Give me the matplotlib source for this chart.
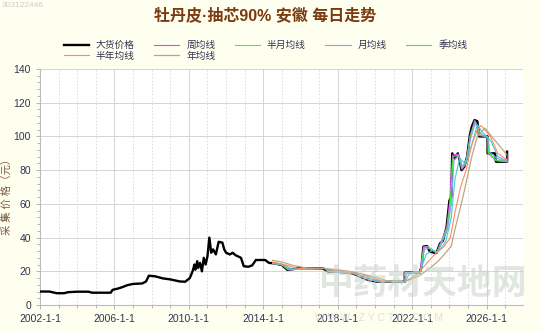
import matplotlib
matplotlib.use("Agg")
import matplotlib.pyplot as plt
from matplotlib.ticker import MultipleLocator

plt.rcParams['font.family'] = ['Liberation Sans', 'Noto Sans CJK SC', 'DejaVu Sans']

# 大货价格 (年份, 元)
price_x = [2002.0, 2002.5, 2002.9, 2003.3, 2003.5, 2004.0, 2004.6, 2004.8, 2005.8, 2005.9,
           2006.2, 2006.4, 2006.7, 2007.0, 2007.5, 2007.7, 2007.85, 2008.2, 2008.6, 2009.0,
           2009.5, 2009.8, 2010.05, 2010.2, 2010.3, 2010.35, 2010.45, 2010.5, 2010.6, 2010.7,
           2010.8, 2010.9, 2011.0, 2011.1, 2011.2, 2011.3, 2011.45, 2011.6, 2011.8, 2011.9,
           2012.0, 2012.2, 2012.35, 2012.5, 2012.8, 2012.95, 2013.2, 2013.4, 2013.6, 2014.1,
           2014.3, 2014.6, 2015.0, 2015.3, 2015.8, 2017.2, 2017.5, 2018.0, 2018.8, 2019.3,
           2019.6, 2020.1, 2021.6, 2021.6, 2022.4, 2022.5, 2022.6, 2022.8, 2022.95, 2023.3,
           2023.5, 2023.65, 2023.85, 2024.0, 2024.1, 2024.15, 2024.3, 2024.45, 2024.55, 2024.65,
           2024.8, 2024.95, 2025.1, 2025.2, 2025.35, 2025.5, 2025.6, 2026.05, 2026.05, 2026.45,
           2026.5, 2027.1, 2027.1]
price_y = [8.0, 8.0, 7.0, 7.0, 7.6, 7.9, 7.9, 7.3, 7.3, 9.0,
           9.8, 10.5, 11.8, 12.5, 12.8, 14.0, 17.4, 17.0, 15.8, 15.2,
           14.0, 13.8, 16.0, 20, 24, 21, 26, 22, 25, 20,
           28, 24, 29, 40, 31, 33, 30, 37.5, 37, 33,
           31, 30, 31, 29.6, 28, 23, 22.7, 23.5, 26.7, 26.7,
           25, 24.7, 23.7, 20.8, 21.7, 21.7, 19.8, 19.8, 18.8, 16.4,
           15, 13.8, 13.8, 19.2, 19.2, 22.7, 34.6, 35, 31.6, 30.8,
           36.6, 38, 46.4, 62, 64, 90, 87, 90, 86, 80,
           82, 88, 100.8, 105.7, 109.7, 109, 100, 100, 90, 90,
           85, 85, 91]

week_x = [2014.5, 2015.02, 2015.32, 2017.3, 2017.51, 2018.81, 2019.32, 2020.12, 2021.6, 2021.62,
          2022.42, 2022.61, 2022.82, 2023.31, 2023.52, 2023.86, 2024.02, 2024.17, 2024.47, 2024.66,
          2024.85, 2024.97, 2025.11, 2025.36, 2025.61, 2026.06, 2026.07, 2026.5, 2027.1, 2027.1]
week_y = [24.7, 23.7, 20.9, 21.7, 19.8, 18.8, 16.4, 13.8, 13.8, 19.2,
          19.3, 34.5, 34.8, 30.8, 36.7, 46.2, 62, 89, 89.5, 80.5,
          83, 88, 100.5, 109.5, 100.5, 99.8, 90.2, 85.5, 85, 88]

half_month_x = [2014.5, 2015.05, 2015.35, 2017.3, 2017.52, 2018.82, 2019.35, 2020.15, 2021.6, 2021.65,
                2022.45, 2022.62, 2022.85, 2023.32, 2023.55, 2023.88, 2024.05, 2024.2, 2024.5, 2024.68,
                2024.9, 2025.12, 2025.38, 2025.62, 2026.08, 2026.1, 2026.52, 2027.1]
half_month_y = [24.7, 23.7, 21, 21.7, 19.8, 18.8, 16.3, 13.8, 13.8, 19.1,
                19.5, 34, 34.5, 30.9, 36.8, 46, 61, 88, 89, 81,
                85, 100, 109, 101, 99.5, 90.5, 86, 85]

month_x = [2014.5, 2015.1, 2015.4, 2017.3, 2017.55, 2018.85, 2019.4, 2020.2, 2021.6, 2021.7,
           2022.5, 2022.65, 2022.9, 2023.35, 2023.6, 2023.9, 2024.1, 2024.25, 2024.5, 2024.7,
           2024.9, 2025.15, 2025.4, 2025.65, 2026.1, 2026.15, 2026.55, 2027.1]
month_y = [24.8, 23.7, 21, 21.7, 19.9, 18.8, 16.2, 13.8, 13.8, 19,
           20, 33, 33.5, 31, 37, 45, 60, 86, 89, 82,
           86, 99, 108.5, 102, 99, 91, 87, 85.2]

quarter_x = [2014.5, 2015.2, 2015.5, 2017.3, 2017.7, 2018.9, 2019.5, 2020.3, 2021.6, 2021.85,
             2022.4, 2022.75, 2023.1, 2023.4, 2023.8, 2024.1, 2024.3, 2024.55, 2024.85, 2025.2,
             2025.5, 2025.75, 2026.25, 2026.6, 2027.1]
quarter_y = [25, 23.5, 21.5, 21.7, 20.2, 19, 16.5, 14, 13.8, 18.5,
             19.2, 30, 32.5, 31.5, 37.5, 52, 75, 87, 84, 95,
             107, 103, 97, 88, 85.5]

half_year_x = [2014.5, 2015.3, 2015.9, 2017.3, 2017.9, 2018.8, 2019.5, 2020.3, 2021.6, 2022.3,
               2022.8, 2023.3, 2023.7, 2024.05, 2024.3, 2024.6, 2024.9, 2025.2, 2025.5, 2025.7,
               2026.2, 2026.6, 2027.1]
half_year_y = [25.5, 23.5, 21.5, 21.7, 20.2, 19.2, 17.2, 14.5, 13.8, 18.5,
               25, 31, 34.5, 40, 55, 70, 80, 95, 104, 106.5,
               100, 90, 86]

year_x = [2014.5, 2015.0, 2015.6, 2016.3, 2017.3, 2017.9, 2018.6, 2019.3, 2020.0, 2020.6,
          2021.6, 2022.4, 2022.9, 2023.4, 2023.8, 2024.1, 2024.3, 2024.55, 2024.85, 2025.2,
          2025.5, 2025.9, 2027.1]
year_y = [26.5, 25.5, 23.5, 22.0, 21.7, 21.0, 20.0, 18.5, 16.5, 14.5,
          13.9, 17.5, 21.5, 26, 31, 35, 45, 56, 70, 88,
          100, 105, 89]

x_ticks = [2002, 2006, 2010, 2014, 2018, 2022, 2026]
x_labels = ['2002-1-1', '2006-1-1', '2010-1-1', '2014-1-1', '2018-1-1', '2022-1-1', '2026-1-1']

bg = '#fffff0'
txt = '#333355'

fig = plt.figure(figsize=(5.42, 3.31), dpi=100, facecolor=bg)
ax = fig.add_axes([0.0738, 0.0785, 0.891, 0.713], facecolor='white')

l_price, = ax.plot(price_x, price_y, color='black', lw=1.7, label='大货价格', zorder=3)
l_week, = ax.plot(week_x, week_y, color='#ff33ff', lw=0.8, label='周均线', zorder=4)
l_half_month, = ax.plot(half_month_x, half_month_y, color='#33ff33', lw=0.8, label='半月均线', zorder=4)
l_month, = ax.plot(month_x, month_y, color='#8c9cff', lw=0.8, label='月均线', zorder=4)
l_quarter, = ax.plot(quarter_x, quarter_y, color='#44cccc', lw=0.8, label='季均线', zorder=4)
l_half_year, = ax.plot(half_year_x, half_year_y, color='#ff8c5a', lw=0.8, label='半年均线', zorder=4)
l_year, = ax.plot(year_x, year_y, color='#bba585', lw=0.9, label='年均线', zorder=4)

ax.set_xlim(2002, 2027.95)
ax.set_ylim(0, 140)
ax.set_xticks(x_ticks)
ax.set_xticklabels(x_labels)
ax.xaxis.set_minor_locator(MultipleLocator(1))
ax.yaxis.set_major_locator(MultipleLocator(20))
ax.yaxis.set_minor_locator(MultipleLocator(4))

ax.grid(which='major', color='#d4d4d4', lw=0.7)
ax.grid(which='minor', axis='x', color='#d8d8d8', lw=0.6, ls=(0, (2, 2)))
ax.set_axisbelow(True)

for s in ['top', 'right']:
    ax.spines[s].set_visible(False)
for s in ['left', 'bottom']:
    ax.spines[s].set_color('#bbbbbb')
ax.tick_params(which='both', colors='#aaaaaa', labelcolor=txt, labelsize=7.5, length=3, width=0.6)
ax.tick_params(which='minor', length=2)

ax.set_ylabel('采 集 价 格（元）', fontsize=7.5, color='#7a5a40')
ax.yaxis.set_label_coords(-0.058, 0.47)

fig.text(0.49, 0.955, '牡丹皮·抽芯90% 安徽 每日走势', ha='center', va='center',
         fontsize=11.5, fontweight='bold', color='#7a3b10')
fig.text(0.003, 0.995, '303122446', ha='left', va='top', fontsize=6, color='#cccccc')

# 水印
fig.text(0.78, 0.14, '中药材天地网', ha='center', va='center', fontsize=25,
         color='#c8d2c8', alpha=0.55, fontweight='bold', zorder=10)
fig.text(0.70, 0.04, 'W W W . Z Y C T D . C O M', ha='center', va='center', fontsize=7.5,
         color='#d8d8d8', alpha=0.8, zorder=0)

handles = [l_price, l_half_year, l_week, l_year, l_half_month, l_month, l_quarter]
leg = fig.legend(handles=handles, labels=[h.get_label() for h in handles], ncol=5,
                 loc='center', bbox_to_anchor=(0.49, 0.848), frameon=False, fontsize=7,
                 handlelength=2.6, handletextpad=0.7, columnspacing=2.0,
                 labelspacing=0.05, borderpad=0)
for t in leg.get_texts():
    t.set_color(txt)

fig.savefig('out.png', dpi=100, facecolor=bg)
